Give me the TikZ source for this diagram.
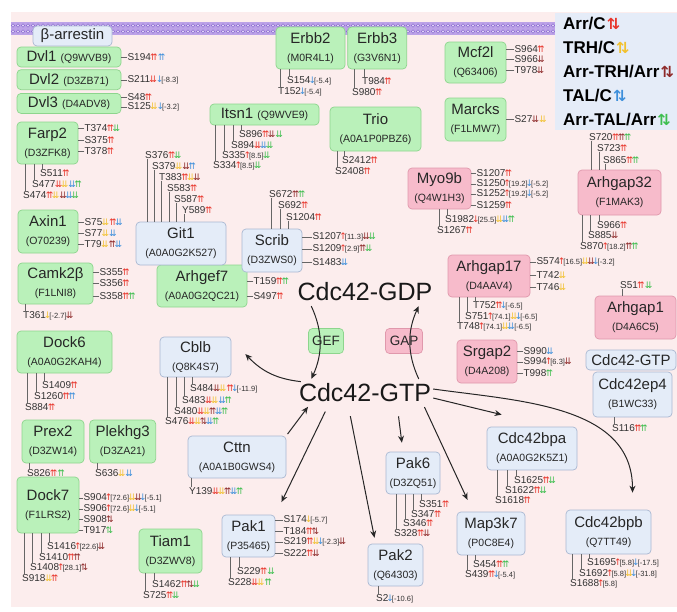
\documentclass[tikz,border=0pt]{standalone}
\usepackage{fontspec}
\setmainfont{Liberation Sans}
\newfontfamily\arrfont[Scale=0.9]{DejaVu Sans}
\usetikzlibrary{positioning,arrows.meta}

\definecolor{bgpink}{HTML}{FCEDED}
\definecolor{memb}{HTML}{BCA2E8}
\definecolor{membdark}{HTML}{8E6FD2}
\definecolor{gfill}{HTML}{BAF1BA}
\definecolor{gline}{HTML}{8DD58D}
\definecolor{pfill}{HTML}{F7BBCB}
\definecolor{pline}{HTML}{E098AC}
\definecolor{bfill}{HTML}{E4ECF8}
\definecolor{bline}{HTML}{A9B8D2}
\definecolor{keyfill}{HTML}{E5ECF8}
\definecolor{cR}{HTML}{E8352B}
\definecolor{cY}{HTML}{F2C12E}
\definecolor{cK}{HTML}{8E2A2A}
\definecolor{cB}{HTML}{3D8FDB}
\definecolor{cG}{HTML}{3DBE4E}

% fold change arrows
\newcommand\aUU[1]{\makebox[6pt]{\arrfont\textcolor{#1}{⇈}}}
\newcommand\aDD[1]{\makebox[6pt]{\arrfont\textcolor{#1}{⇊}}}
\newcommand\aUD[1]{\makebox[6pt]{\arrfont\textcolor{#1}{⇅}}}
\newcommand\aU[1]{\makebox[3.5pt]{\arrfont\textcolor{#1}{↑}}}
\newcommand\aD[1]{\makebox[3.5pt]{\arrfont\textcolor{#1}{↓}}}
\newcommand\kU[1]{\makebox[5pt]{\arrfont\textcolor{#1}{↑}}}
\newcommand\kD[1]{\makebox[5pt]{\arrfont\textcolor{#1}{↓}}}
\newcommand\fcv[1]{{\fontsize{7.5}{8}\selectfont[#1]}}
\newcommand\acc[1]{{\fontsize{10.5}{12}\selectfont(#1)}}

% sites: right of a box, below a box, above a box
\newcommand\siteR[5][6pt]{%
  \node[site,anchor=west,xshift=#1] (#2) at (#3.east |- 0,#4) {#5};
  \draw[tick] (#2.west) -- (#2.west -| #3.east);}
\newcommand\siteB[5]{%
  \node[site,anchor=west] (#1) at (#3,#4) {#5};
  \coordinate (#1t) at ([xshift=2.5pt]#1.north west);
  \draw[tick] (#1t) -- (#1t |- #2.south);}
\newcommand\siteA[5]{%
  \node[site,anchor=west] (#1) at (#3,#4) {#5};
  \coordinate (#1t) at ([xshift=2.5pt]#1.south west);
  \draw[tick] (#1t) -- (#1t |- #2.north);}

\tikzset{
  prot/.style={rounded corners=4pt, line width=0.7pt, inner sep=1pt, align=center,
               text=black!85, font=\fontsize{15}{16}\selectfont},
  gefp/.style={prot, fill=gfill, draw=gline},
  gapp/.style={prot, fill=pfill, draw=pline},
  effp/.style={prot, fill=bfill, draw=bline},
  site/.style={inner sep=0pt, text=black!80, font=\fontsize{10}{10}\selectfont},
  tick/.style={draw=black!60, line width=0.6pt},
  bigarr/.style={-{Stealth[length=7pt,width=6pt]}, line width=1pt, black!85},
  gstate/.style={inner sep=2pt, text=black!90, font=\fontsize{25}{26}\selectfont}
}

\begin{document}
\begin{tikzpicture}[x=1pt,y=-1pt]
  \useasboundingbox (0,0) rectangle (677,611);
  \fill[bgpink] (11,12) rectangle (677,607);

  % membrane
  \fill[memb] (11,22) rectangle (555,35);
  \foreach \x in {13,18,...,553} {
    \draw[membdark, fill=white!60!memb, line width=0.5pt] (\x,25.5) circle (1.8pt);
    \draw[membdark, fill=white!60!memb, line width=0.5pt] (\x,31.5) circle (1.8pt);
  }

  % key
  \node[fill=keyfill, anchor=north west, align=left, inner xsep=3pt, inner ysep=4pt,
        minimum width=125pt, minimum height=117pt,
        font=\bfseries\fontsize{17}{24}\selectfont] (key) at (555,13)
    {Arr/C\,\kU{cR}\kD{cR}\\
     TRH/C\,\kU{cY}\kD{cY}\\
     Arr-TRH/Arr\,\kU{cK}\kD{cK}\\
     TAL/C\,\kU{cB}\kD{cB}\\
     Arr-TAL/Arr\,\kU{cG}\kD{cG}};

  % GEFs
  \node[effp, minimum width=79pt, minimum height=20pt] (barr) at (72.5,36) {β-arrestin};
  \node[gefp, minimum width=104pt, minimum height=20pt] (dvl1) at (69,57) {Dvl1 \acc{Q9WVB9}};
  \node[gefp, minimum width=104pt, minimum height=20pt] (dvl2) [below=2pt of dvl1] {Dvl2 \acc{D3ZB71}};
  \node[gefp, minimum width=104pt, minimum height=20pt] (dvl3) [below=3pt of dvl2] {Dvl3 \acc{D4ADV8}};
  \node[gefp, minimum width=61pt, minimum height=42pt] (farp2) at (47.5,143) {Farp2\\[2pt]\acc{D3ZFK8}};
  \node[gefp, minimum width=60pt, minimum height=43pt] (axin1) at (48,231.5) {Axin1\\[2pt]\acc{O70239}};
  \node[gefp, minimum width=75pt, minimum height=41pt] (camk) at (55.5,283.5) {Camk2β\\[2pt]\acc{F1LNI8}};
  \node[gefp, minimum width=95pt, minimum height=42pt] (dock6) at (64.5,352) {Dock6\\[2pt]\acc{A0A0G2KAH4}};
  \node[gefp, minimum width=62pt, minimum height=43pt] (prex2) at (53,441.5) {Prex2\\[2pt]\acc{D3ZW14}};
  \node[gefp, minimum width=66pt, minimum height=43pt] (plekhg3) [right=5pt of prex2] {Plekhg3\\[2pt]\acc{D3ZA21}};
  \node[gefp, minimum width=62pt, minimum height=56pt] (dock7) at (48,505) {Dock7\\[2pt]\acc{F1LRS2}};
  \node[gefp, minimum width=63pt, minimum height=44pt] (tiam1) at (170.5,551) {Tiam1\\[2pt]\acc{D3ZWV8}};
  \node[gefp, minimum width=109pt, minimum height=21pt] (itsn1) at (264.5,114.5) {Itsn1 \acc{Q9WVE9}};
  \node[gefp, minimum width=69pt, minimum height=42pt] (erbb2) at (310.5,48) {Erbb2\\[2pt]\acc{M0R4L1}};
  \node[gefp, minimum width=59pt, minimum height=42pt] (erbb3) [right=2pt of erbb2] {Erbb3\\[2pt]\acc{G3V6N1}};
  \node[gefp, minimum width=91pt, minimum height=44pt] (trio) at (375.5,129) {Trio\\[2pt]\acc{A0A1P0PBZ6}};
  \node[gefp, minimum width=90pt, minimum height=42pt] (arhgef7) at (202,286) {Arhgef7\\[2pt]\acc{A0A0G2QC21}};
  \node[gefp, minimum width=61pt, minimum height=41pt] (mcf2l) at (475.5,62.5) {Mcf2l\\[2pt]\acc{Q63406}};
  \node[gefp, minimum width=61pt, minimum height=43pt] (marcks) at (475.5,119.5) {Marcks\\[2pt]\acc{F1LMW7}};

  % GAPs
  \node[gapp, minimum width=63pt, minimum height=41pt] (myo9b) at (439.5,188.5) {Myo9b\\[2pt]\acc{Q4W1H3}};
  \node[gapp, minimum width=83pt, minimum height=45pt] (arhgap32) at (619.5,192.5) {Arhgap32\\[2pt]\acc{F1MAK3}};
  \node[gapp, minimum width=82pt, minimum height=42pt] (arhgap17) at (489,276) {Arhgap17\\[2pt]\acc{D4AAV4}};
  \node[gapp, minimum width=81pt, minimum height=43pt] (arhgap1) at (635.5,317.5) {Arhgap1\\[2pt]\acc{D4A6C5}};
  \node[gapp, minimum width=60pt, minimum height=43pt] (srgap2) at (487,361.5) {Srgap2\\[2pt]\acc{D4A208}};

  % effectors
  \node[effp, minimum width=90pt, minimum height=43pt] (git1) at (181,243.5) {Git1\\[2pt]\acc{A0A0G2K527}};
  \node[effp, minimum width=60pt, minimum height=43pt] (scrib) at (272,250.5) {Scrib\\[2pt]\acc{D3ZWS0}};
  \node[effp, minimum width=71pt, minimum height=40pt] (cblb) at (195.5,357) {Cblb\\[2pt]\acc{Q8K4S7}};
  \node[effp, minimum width=98pt, minimum height=42pt] (cttn) at (237,457) {Cttn\\[2pt]\acc{A0A1B0GWS4}};
  \node[effp, minimum width=53pt, minimum height=42pt] (pak1) at (248.5,536) {Pak1\\[2pt]\acc{P35465}};
  \node[effp, minimum width=55pt, minimum height=42pt] (pak2) at (395.5,565) {Pak2\\[2pt]\acc{Q64303}};
  \node[effp, minimum width=54pt, minimum height=42pt] (pak6) at (413,473) {Pak6\\[2pt]\acc{D3ZQ51}};
  \node[effp, minimum width=90pt, minimum height=43pt] (cdc42bpa) at (532,448.5) {Cdc42bpa\\[2pt]\acc{A0A0G2K5Z1}};
  \node[effp, minimum width=68pt, minimum height=43pt] (map3k7) at (491,533.5) {Map3k7\\[2pt]\acc{P0C8E4}};
  \node[effp, minimum width=85pt, minimum height=44pt] (cdc42bpb) at (608.5,532) {Cdc42bpb\\[2pt]\acc{Q7TT49}};
  \node[effp, minimum width=90pt, minimum height=20pt] (gtpbox) at (631,360) {Cdc42-GTP};
  \node[effp, minimum width=79pt, minimum height=45pt] (cdc42ep4) at (632.5,394.5) {Cdc42ep4\\[2pt]\acc{B1WC33}};

  % Cdc42 cycle
  \node[gstate] (gdp) at (365,292) {Cdc42-GDP};
  \node[gstate] (gtp) at (365,393) {Cdc42-GTP};
  \node[gefp, font=\fontsize{13.5}{14}\selectfont, minimum width=35pt, minimum height=25pt] (gef) at (326,341) {GEF};
  \node[gapp, font=\fontsize{13.5}{14}\selectfont, minimum width=37pt, minimum height=25pt] (gap) at (404,341) {GAP};

  \draw[bigarr, shorten <=3pt, shorten >=3pt] ([xshift=-55pt]gdp.south) to[bend left=25] ([xshift=-55pt]gtp.north);
  \draw[bigarr, shorten <=3pt, shorten >=3pt] ([xshift=55pt]gtp.north) to[bend left=25] ([xshift=55pt]gdp.south);
  \draw[bigarr] ([xshift=4pt]gtp.north west) to[bend left=20] ([xshift=14pt,yshift=3pt]cblb.east);
  \draw[bigarr, shorten <=2pt, shorten >=3pt] (cttn.north east) -- ([xshift=13pt]gtp.south west);
  \draw[bigarr, shorten <=8pt, shorten >=14pt] ([xshift=32pt]gtp.south west) -- (pak1.north east);
  \draw[bigarr, shorten <=12pt, shorten >=6pt] ([xshift=-17pt]gtp.south) -- ([xshift=8pt]pak2.north west);
  \draw[bigarr, shorten <=12pt, shorten >=9pt] ([xshift=32pt]gtp.south) -- ([xshift=-10pt]pak6.north);
  \draw[bigarr, shorten <=3pt, shorten >=13pt] ([xshift=-10pt]gtp.south east) -- ([xshift=-18pt]map3k7.north);
  \draw[bigarr] ([yshift=-5pt]gtp.east) -- ([xshift=15pt,yshift=12pt]cdc42bpa.north west);
  \draw[bigarr] ([yshift=4pt]gtp.east) to[out=-8,in=90] ([xshift=24pt,yshift=17pt]cdc42bpb.north);

  % phosphosites
  \siteR{dvlaS194}{dvl1}{57}{S194\aUU{cR}\,\aUU{cB}}
  \siteR{dvlbS211}{dvl2}{80}{S211\aDD{cR}\,\aD{cB}\fcv{-8.3}}
  \siteR{dvlcS48}{dvl3}{97}{S48\aUU{cR}}
  \siteR{dvlcS125}{dvl3}{107}{S125\aDD{cY}\,\aD{cB}\fcv{-3.2}}

  \siteR{farT374}{farp2}{128}{T374\aUU{cR}\aDD{cG}}
  \siteR{farS375}{farp2}{140}{S375\aUU{cR}}
  \siteR{farT378}{farp2}{151}{T378\aUU{cR}}
  \siteB{farS511}{farp2}{40}{173}{S511\aUU{cR}}
  \siteB{farS477}{farp2}{32}{184}{S477\aDD{cR}\aDD{cY}\,\aDD{cB}\aUU{cG}}
  \siteB{farS474}{farp2}{23}{195}{S474\aUU{cR}\aDD{cY}\,\aDD{cK}\aDD{cB}\aDD{cG}}

  \siteR{axS75}{axin1}{222}{S75\aDD{cY}\,\aUU{cR}\aDD{cB}}
  \siteR{axS77}{axin1}{233}{S77\aDD{cY}\,\aDD{cB}}
  \siteR{axT79}{axin1}{244}{T79\aDD{cY}\,\aUU{cK}\aDD{cB}}

  \siteR{camS355}{camk}{272}{S355\aUU{cR}}
  \siteR{camS356}{camk}{283}{S356\aUU{cR}}
  \siteR{camS358}{camk}{296}{S358\aUU{cR}\aUU{cG}}
  \siteB{camT361}{camk}{23}{316}{T361\aD{cY}\fcv{-2.7}\aDD{cK}}

  \siteB{dsS1409}{dock6}{42}{385}{S1409\aUU{cR}}
  \siteB{dsS1260}{dock6}{34}{396}{S1260\aUU{cR}\aUU{cB}}
  \siteB{dsS884}{dock6}{25}{407}{S884\aUU{cR}}

  \siteB{pxS826}{prex2}{27}{473}{S826\aUU{cR}\,\aUU{cG}}
  \siteB{plS636}{plekhg3}{95}{473}{S636\aDD{cY}\,\aDD{cB}}

  \siteR[4pt]{dsvS904}{dock7}{498}{S904\aU{cR}\fcv{72.6}\aDD{cY}\aDD{cK}\aD{cB}\fcv{-5.1}}
  \siteR[4pt]{dsvS906}{dock7}{509}{S906\aU{cR}\fcv{72.6}\aDD{cY}\aD{cB}\fcv{-5.1}}
  \siteR[4pt]{dsvS908}{dock7}{519}{S908\aUD{cK}}
  \siteR[4pt]{dsvT917}{dock7}{530}{T917\aUD{cG}}
  \siteB{dsvS1416}{dock7}{47}{547}{S1416\aU{cR}\fcv{22.6}\aDD{cK}}
  \siteB{dsvS1410}{dock7}{39}{557}{S1410\aUU{cR}\aUU{cK}}
  \siteB{dsvS1408}{dock7}{30}{568}{S1408\aU{cR}\fcv{28.1}\aUD{cK}}
  \siteB{dsvS918}{dock7}{22}{578}{S918\aDD{cY}\aUU{cR}}

  \siteB{tiS1462}{tiam1}{152}{584}{S1462\aUU{cR}\aUD{cK}\aDD{cG}}
  \siteB{tiS725}{tiam1}{143}{595}{S725\aUU{cR}\aDD{cG}}

  \siteB{itS896}{itsn1}{239}{134}{S896\aUU{cR}\aDD{cK}\,\aDD{cG}}
  \siteB{itS894}{itsn1}{231}{145}{S894\aDD{cR}\aDD{cB}\aDD{cG}}
  \siteB{itS335}{itsn1}{222}{156}{S335\aU{cR}\fcv{8.5}\aDD{cG}}
  \siteB{itS334}{itsn1}{213}{166}{S334\aU{cR}\fcv{8.5}\aDD{cG}}

  \siteA{gitS376}{git1}{145}{155}{S376\aUU{cR}\aDD{cG}}
  \siteA{gitS379}{git1}{152}{166}{S379\aDD{cY}\,\aDD{cK}\aUU{cB}}
  \siteA{gitT383}{git1}{159}{177}{T383\aUU{cR}\aDD{cY}\aDD{cK}}
  \siteA{gitS583}{git1}{167}{188}{S583\aUU{cR}}
  \siteA{gitS587}{git1}{174}{199}{S587\aUU{cR}}
  \siteA{gitY589}{git1}{182}{210}{Y589\aUU{cR}}

  \siteB{ebS154}{erbb2}{287}{81}{S154\aD{cB}\fcv{-5.4}}
  \siteB{ebT152}{erbb2}{278}{92}{T152\aD{cB}\fcv{-5.4}}
  \siteB{ecT984}{erbb3}{362}{81}{T984\aUU{cR}}
  \siteB{ecS980}{erbb3}{352}{92}{S980\aUU{cR}}

  \siteB{trS2412}{trio}{342}{160}{S2412\aUU{cR}}
  \siteB{trS2408}{trio}{335}{171}{S2408\aUU{cR}}

  \siteA{scS672}{scrib}{269}{194}{S672\aUU{cK}\aUU{cG}}
  \siteA{scS692}{scrib}{278}{205}{S692\aUU{cR}}
  \siteA{scS1204}{scrib}{286}{217}{S1204\aUU{cR}}
  \siteR[10pt]{scS1207}{scrib}{237}{S1207\aU{cR}\fcv{11.3}\aDD{cK}\aDD{cG}}
  \siteR[10pt]{scS1209}{scrib}{249}{S1209\aU{cR}\fcv{2.9}\aUU{cK}\aDD{cG}}
  \siteR[10pt]{scS1483}{scrib}{262}{S1483\aDD{cB}}

  \siteR{agT159}{arhgef7}{281}{T159\aUU{cR}\aUU{cG}}
  \siteR{agS497}{arhgef7}{296}{S497\aUU{cR}}

  \siteR[8pt]{mcS964}{mcf2l}{49}{S964\aUU{cR}}
  \siteR[8pt]{mcS966}{mcf2l}{59}{S966\aDD{cK}}
  \siteR[8pt]{mcT978}{mcf2l}{70}{T978\aDD{cK}}
  \siteR[8pt]{maS27}{marcks}{119}{S27\aDD{cK}\,\aDD{cY}}

  \siteR[5pt]{myS1207}{myo9b}{173}{S1207\aUU{cR}}
  \siteR[5pt]{myS1250}{myo9b}{184}{S1250\aU{cR}\fcv{19.2}\aD{cB}\fcv{-5.2}}
  \siteR[5pt]{myS1252}{myo9b}{194}{S1252\aU{cR}\fcv{19.2}\aD{cB}\fcv{-5.2}}
  \siteR[5pt]{myS1259}{myo9b}{205}{S1259\aUU{cR}}
  \siteB{myS1982}{myo9b}{445}{220}{S1982\aD{cR}\fcv{25.5}\aDD{cY}\aDD{cB}\aUU{cG}}
  \siteB{myS1267}{myo9b}{437}{230}{S1267\aUU{cR}}

  \siteA{atS720}{arhgap32}{589}{137}{S720\aUU{cR}\aUU{cK}\aUU{cG}}
  \siteA{atS723}{arhgap32}{597}{148}{S723\aUU{cR}}
  \siteA{atS865}{arhgap32}{603}{160}{S865\aUU{cR}\aUU{cG}}
  \siteB{atS966}{arhgap32}{597}{225}{S966\aUU{cR}}
  \siteB{atS885}{arhgap32}{588}{235}{S885\aDD{cK}}
  \siteB{atS870}{arhgap32}{580}{247}{S870\aU{cR}\fcv{18.2}\aUU{cK}\aUU{cG}}

  \siteR{asS574}{arhgap17}{262}{S574\aU{cR}\fcv{16.5}\aDD{cY}\aDD{cK}\aD{cB}\fcv{-3.2}}
  \siteR{asT742}{arhgap17}{275}{T742\aDD{cY}}
  \siteR{asT746}{arhgap17}{287}{T746\aDD{cY}}
  \siteB{asT752}{arhgap17}{473}{306}{T752\aUU{cR}\aD{cB}\fcv{-6.5}}
  \siteB{asS751}{arhgap17}{465}{317}{S751\aU{cR}\fcv{74.1}\aDD{cY}\aD{cB}\fcv{-6.5}}
  \siteB{asT748}{arhgap17}{457}{327}{T748\aU{cR}\fcv{74.1}\aDD{cY}\aDD{cB}\fcv{-6.5}}

  \siteA{aoS51}{arhgap1}{620}{285}{S51\aUU{cR}\,\aDD{cG}}

  \siteR{srS990}{srgap2}{351}{S990\aDD{cB}}
  \siteR{srS994}{srgap2}{362}{S994\aU{cR}\fcv{6.3}\aDD{cK}}
  \siteR{srT998}{srgap2}{373}{T998\aUU{cG}}

  \siteB{epS116}{cdc42ep4}{612}{428}{S116\aUU{cR}\aUU{cG}}

  \siteB{baS1625}{cdc42bpa}{514}{480}{S1625\aUU{cR}\aDD{cG}}
  \siteB{baS1622}{cdc42bpa}{505}{490}{S1622\aUU{cR}\aDD{cG}}
  \siteB{baS1618}{cdc42bpa}{495}{500}{S1618\aUU{cR}}

  \siteB{mkS454}{map3k7}{473}{564}{S454\aUU{cR}\aUU{cG}}
  \siteB{mkS439}{map3k7}{465}{575}{S439\aUU{cR}\aD{cB}\fcv{-5.4}}

  \siteB{bbS1695}{cdc42bpb}{587}{563}{S1695\aU{cR}\fcv{5.8}\aD{cB}\fcv{-17.5}}
  \siteB{bbS1692}{cdc42bpb}{579}{574}{S1692\aU{cR}\fcv{5.8}\aDD{cY}\aD{cB}\fcv{-31.8}}
  \siteB{bbS1688}{cdc42bpb}{570}{584}{S1688\aU{cR}\fcv{5.8}}

  \siteB{cbS484}{cblb}{190}{389}{S484\aDD{cK}\aDD{cY}\,\aUU{cR}\aD{cB}\fcv{-11.9}}
  \siteB{cbS483}{cblb}{182}{400}{S483\aDD{cR}\aDD{cY}\,\aDD{cB}\aUU{cG}}
  \siteB{cbS480}{cblb}{174}{411}{S480\aDD{cR}\aDD{cY}\aUU{cK}\aDD{cB}\aUU{cG}}
  \siteB{cbS476}{cblb}{165}{421}{S476\aDD{cR}\aDD{cY}\aUD{cK}\aDD{cB}\aUU{cG}}

  \siteB{ctY139}{cttn}{189}{491}{Y139\aDD{cR}\aDD{cY}\aUU{cK}\aDD{cB}\aUU{cG}}

  \siteR[8pt]{poS174}{pak1}{520}{S174\aD{cY}\fcv{-5.7}}
  \siteR[8pt]{poT184}{pak1}{531}{T184\aUU{cR}\aUD{cK}}
  \siteR[8pt]{poS219}{pak1}{542}{S219\aUU{cR}\aDD{cY}\aD{cB}\fcv{-2.3}\aDD{cK}}
  \siteR[8pt]{poS222}{pak1}{553}{S222\aUU{cR}\aDD{cK}}
  \siteB{poS229}{pak1}{237}{571}{S229\aUU{cR}\,\aDD{cG}}
  \siteB{poS228}{pak1}{228}{582}{S228\aDD{cR}\aDD{cY}\,\aUU{cG}}

  \siteB{ptS2}{pak2}{376}{599}{S2\aD{cB}\fcv{-10.6}}

  \siteB{psS351}{pak6}{419}{504}{S351\aUU{cR}}
  \siteB{psS347}{pak6}{411}{514}{S347\aUU{cR}}
  \siteB{psS346}{pak6}{403}{523}{S346\aUU{cR}}
  \siteB{psS328}{pak6}{394}{533}{S328\aUU{cR}\aDD{cK}}
\end{tikzpicture}
\end{document}
